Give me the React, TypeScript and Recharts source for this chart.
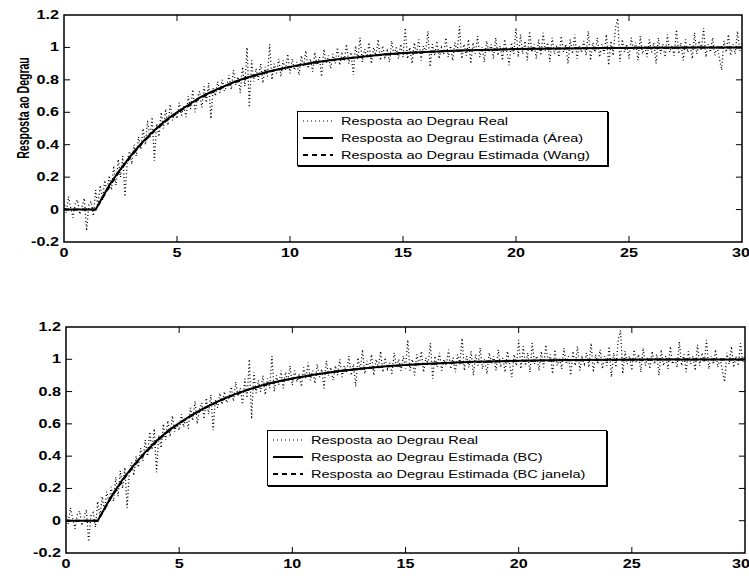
import { LineChart, Line, XAxis, YAxis, ReferenceArea, ReferenceLine, Legend } from 'recharts';

const FONT = '"Liberation Sans", Arial, Helvetica, sans-serif';

// measured step response, one sample every DT seconds (t = 0 .. 30)
const DT = 0.1;
const realResp = [
  0.05, -0.02, 0.08, 0.01, -0.05, 0.04, 0.06, -0.03, 0.02, 0.07, -0.13, 0.03, 0.05, -0.04, 0.12, 0.02, 0.15, 0.06, 0.18, 0.11, 0.21, 0.12, 0.27, 0.15, 0.31, 0.2, 0.33, 0.08, 0.3, 0.36,
  0.28, 0.4, 0.33, 0.45, 0.37, 0.5, 0.4, 0.55, 0.44, 0.57, 0.3, 0.53, 0.45, 0.6, 0.5, 0.62, 0.52, 0.65, 0.55, 0.6, 0.56, 0.66, 0.58, 0.64, 0.57, 0.7, 0.62, 0.74, 0.6, 0.69,
  0.73, 0.63, 0.76, 0.66, 0.78, 0.56, 0.75, 0.7, 0.79, 0.72, 0.8, 0.73, 0.76, 0.83, 0.74, 0.86, 0.77, 0.82, 0.72, 0.88, 0.76, 1.0, 0.63, 0.92, 0.79, 0.87, 0.8, 0.9, 0.78, 0.88,
  0.82, 1.02, 0.8, 0.9, 0.84, 0.93, 0.82, 0.92, 0.86, 0.96, 0.84, 0.93, 0.86, 0.91, 0.83, 0.95, 0.88, 0.98, 0.87, 0.93, 0.85, 0.97, 0.89, 0.94, 0.82, 0.99, 0.9, 0.95, 0.87, 0.96,
  0.9, 1.0, 0.89, 0.96, 0.92, 1.02, 0.9, 0.97, 0.83, 1.01, 0.93, 1.06, 0.91, 0.99, 0.94, 1.03, 0.9, 1.0, 0.95, 1.05, 0.92, 1.01, 0.94, 0.98, 0.91, 1.04, 0.95, 1.0, 0.93, 1.02,
  0.94, 1.12, 0.93, 1.0, 0.9, 1.03, 0.96, 1.05, 0.92, 1.01, 0.97, 1.1, 0.88, 1.02, 0.95, 1.04, 0.93, 1.0, 0.96, 1.06, 0.94, 1.01, 0.92, 1.03, 0.97, 1.13, 0.93, 1.02, 0.95, 1.05,
  0.9, 1.03, 0.96, 1.07, 0.94, 1.0, 0.91, 1.04, 0.97, 1.02, 0.93, 1.06, 0.95, 1.01, 0.92, 1.05, 0.97, 0.89, 1.03, 0.96, 1.12, 0.94, 1.08, 0.96, 1.04, 0.92, 1.1, 0.97, 1.02, 0.93,
  1.05, 0.95, 1.09, 0.98, 1.03, 0.91, 1.06, 0.96, 1.01, 0.94, 1.07, 0.97, 1.02, 0.9, 1.05, 0.96, 1.08, 0.93, 1.01, 0.97, 1.04, 0.95, 1.1, 0.92, 1.03, 0.97, 1.06, 0.94, 1.02, 0.96,
  1.08, 0.89, 1.04, 0.95, 1.12, 1.18, 0.91, 1.05, 0.97, 1.02, 0.93, 1.06, 0.98, 1.03, 0.92, 1.07, 0.96, 1.01, 0.94, 1.05, 0.97, 1.03, 0.9, 1.06, 0.96, 1.02, 0.94, 1.08, 0.97, 1.01,
  0.95, 1.11, 0.96, 1.03, 0.92, 1.05, 0.97, 1.02, 0.93, 1.09, 0.96, 1.04, 0.98, 1.12, 0.94, 1.02, 0.97, 1.06, 0.95, 1.01, 0.93, 0.86, 1.04, 0.97, 1.08, 0.95, 1.02, 0.96, 1.1, 0.98, 1.03,
];

// estimated responses (first order + dead time)
const estTime = [0, 1.4, 2, 2.5, 3, 3.5, 4, 4.5, 5, 5.5, 6, 6.5, 7, 7.5, 8, 8.5, 9, 9.5, 10, 11, 12, 13, 14, 15, 16, 17, 18, 20, 22, 24, 26, 28, 30];
const estArea = [0, 0, 0.15, 0.25, 0.34, 0.42, 0.49, 0.55, 0.6, 0.645, 0.69, 0.725, 0.755, 0.785, 0.81, 0.83, 0.85, 0.865, 0.88, 0.905, 0.925, 0.94, 0.955, 0.965, 0.972, 0.978, 0.983, 0.99, 0.994, 0.996, 0.998, 0.999, 0.999];
const estWang = [0, 0, 0.14, 0.245, 0.335, 0.415, 0.485, 0.545, 0.595, 0.64, 0.685, 0.72, 0.752, 0.782, 0.807, 0.828, 0.848, 0.864, 0.879, 0.904, 0.924, 0.94, 0.954, 0.964, 0.972, 0.978, 0.983, 0.99, 0.994, 0.996, 0.998, 0.999, 0.999];
const estBC = [0, 0, 0.15, 0.255, 0.345, 0.425, 0.495, 0.555, 0.605, 0.65, 0.69, 0.725, 0.757, 0.786, 0.81, 0.832, 0.851, 0.867, 0.881, 0.906, 0.926, 0.942, 0.955, 0.965, 0.973, 0.979, 0.984, 0.991, 0.995, 0.997, 0.998, 0.999, 0.999];
const estBCJanela = [0, 0, 0.145, 0.25, 0.34, 0.42, 0.49, 0.552, 0.602, 0.647, 0.688, 0.723, 0.755, 0.784, 0.809, 0.83, 0.85, 0.866, 0.88, 0.905, 0.925, 0.941, 0.954, 0.964, 0.972, 0.978, 0.983, 0.99, 0.994, 0.996, 0.998, 0.999, 0.999];

const xTicks = [0, 5, 10, 15, 20, 25, 30];
const yTicks = [-0.2, 0, 0.2, 0.4, 0.6, 0.8, 1, 1.2];

const legendTop = [
  'Resposta ao Degrau Real',
  'Resposta ao Degrau Estimada (Área)',
  'Resposta ao Degrau Estimada (Wang)',
];
const legendBottom = [
  'Resposta ao Degrau Real',
  'Resposta ao Degrau Estimada (BC)',
  'Resposta ao Degrau Estimada (BC janela)',
];

const realData = realResp.map((v, i) => ({ t: +(i * DT).toFixed(1), v }));
const toSeries = (vals: number[]) => vals.map((v, i) => ({ t: estTime[i], v }));

const X_MIN = 0, X_MAX = 30, Y_MIN = -0.2, Y_MAX = 1.2;
const TICK_DX = 0.27; // inner tick length along x, data units
const TICK_DY = 0.037; // inner tick length along y, data units

const lineStyles = [
  { width: 1.2, dash: '1 3' },
  { width: 2, dash: undefined },
  { width: 2, dash: '5 4' },
];

function XTick({ x, y, payload }: any) {
  return (
    <text transform={`translate(${x},${y + 15}) scale(1.35,1)`} textAnchor="middle"
      fontFamily={FONT} fontWeight="bold" fontSize={12} fill="#000">
      {payload.value}
    </text>
  );
}

function YTick({ x, y, payload }: any) {
  return (
    <text transform={`translate(${x - 5},${y + 4}) scale(1.35,1)`} textAnchor="end"
      fontFamily={FONT} fontWeight="bold" fontSize={12} fill="#000">
      {payload.value}
    </text>
  );
}

function YLabel() {
  return (
    <text transform="translate(29,108) scale(1.6,1) rotate(-90)" textAnchor="middle"
      fontFamily={FONT} fontWeight="bold" fontSize={10.5} fill="#000">
      Resposta ao Degrau
    </text>
  );
}

function FigLegend({ labels, box }: { labels: string[]; box: { left: number; top: number; width: number; height: number } }) {
  return (
    <div style={{
      position: 'absolute', left: box.left, top: box.top, width: box.width, height: box.height,
      border: '1px solid #000', boxShadow: '1px 1px 0 #000', background: '#fff', boxSizing: 'border-box',
      fontFamily: FONT, fontSize: 11, color: '#000',
    }}>
      {labels.map((lab, i) => (
        <div key={lab} style={{ position: 'absolute', left: 5, top: 1 + i * 17, height: 16, display: 'flex', alignItems: 'center' }}>
          <svg width={32} height={10}>
            <line x1={0} y1={5} x2={30} y2={5} stroke="#000" strokeWidth={lineStyles[i].width} strokeDasharray={lineStyles[i].dash} />
          </svg>
          <span style={{ marginLeft: 6, display: 'inline-block', transform: 'scaleX(1.32)', transformOrigin: 'left center', whiteSpace: 'nowrap' }}>
            {lab}
          </span>
        </div>
      ))}
    </div>
  );
}

type PanelProps = {
  height: number;
  margin: { top: number; right: number; bottom: number; left: number };
  est1: number[];
  est2: number[];
  labels: string[];
  legendBox: { left: number; top: number; width: number; height: number };
  showYLabel?: boolean;
};

function Panel({ height, margin, est1, est2, labels, legendBox, showYLabel }: PanelProps) {
  return (
    <LineChart width={749} height={height} margin={margin}>
      <XAxis type="number" dataKey="t" domain={[X_MIN, X_MAX]} ticks={xTicks} allowDataOverflow
        axisLine={false} tickLine={false} tickSize={0} tickMargin={0} height={20} tick={<XTick />} />
      <YAxis type="number" domain={[Y_MIN, Y_MAX]} ticks={yTicks} allowDataOverflow
        axisLine={false} tickLine={false} tickSize={0} tickMargin={0} width={44} tick={<YTick />}
        label={showYLabel ? <YLabel /> : undefined} />
      <ReferenceArea x1={X_MIN} x2={X_MAX} y1={Y_MIN} y2={Y_MAX} fill="none" stroke="#000" strokeWidth={1.5} />
      {xTicks.slice(1, -1).map((xv) => (
        <ReferenceLine key={`xb${xv}`} segment={[{ x: xv, y: Y_MIN }, { x: xv, y: Y_MIN + TICK_DY }]} stroke="#000" />
      ))}
      {xTicks.slice(1, -1).map((xv) => (
        <ReferenceLine key={`xt${xv}`} segment={[{ x: xv, y: Y_MAX }, { x: xv, y: Y_MAX - TICK_DY }]} stroke="#000" />
      ))}
      {yTicks.slice(1, -1).map((yv) => (
        <ReferenceLine key={`yl${yv}`} segment={[{ x: X_MIN, y: yv }, { x: X_MIN + TICK_DX, y: yv }]} stroke="#000" />
      ))}
      {yTicks.slice(1, -1).map((yv) => (
        <ReferenceLine key={`yr${yv}`} segment={[{ x: X_MAX, y: yv }, { x: X_MAX - TICK_DX, y: yv }]} stroke="#000" />
      ))}
      <Line data={realData} dataKey="v" type="linear" stroke="#000" strokeWidth={1.3} strokeDasharray="1 2.5"
        dot={false} activeDot={false} isAnimationActive={false} />
      <Line data={toSeries(est1)} dataKey="v" type="linear" stroke="#000" strokeWidth={2}
        dot={false} activeDot={false} isAnimationActive={false} />
      <Line data={toSeries(est2)} dataKey="v" type="linear" stroke="#000" strokeWidth={2} strokeDasharray="5 4"
        dot={false} activeDot={false} isAnimationActive={false} />
      <Legend layout="vertical" align="center" verticalAlign="middle"
        wrapperStyle={{ left: 0, top: 0, width: 0, height: 0 }}
        content={() => <FigLegend labels={labels} box={legendBox} />} />
    </LineChart>
  );
}

export default function App() {
  return (
    <div style={{ position: 'absolute', left: 0, top: 0, width: 749, height: 578, background: '#fff' }}>
      <div style={{ position: 'absolute', left: 0, top: 0 }}>
        <Panel height={270} margin={{ top: 15, right: 7, bottom: 8, left: 20 }}
          est1={estArea} est2={estWang} labels={legendTop}
          legendBox={{ left: 297, top: 111, width: 311, height: 55 }} showYLabel />
      </div>
      <div style={{ position: 'absolute', left: 0, top: 280 }}>
        <Panel height={298} margin={{ top: 47, right: 4, bottom: 5, left: 22 }}
          est1={estBC} est2={estBCJanela} labels={legendBottom}
          legendBox={{ left: 267, top: 150, width: 340, height: 56 }} />
      </div>
    </div>
  );
}
